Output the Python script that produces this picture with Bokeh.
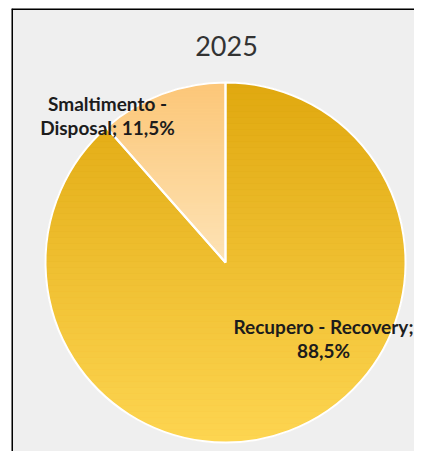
import numpy as np
from bokeh.plotting import figure
from bokeh.models import Range1d, Span
from bokeh.core.properties import value
from bokeh.embed import file_html
from bokeh.resources import INLINE

# ---- data ----
title_text = "2025"
categories = ["Recupero - Recovery", "Smaltimento - Disposal"]
shares = [88.5, 11.5]
label_texts = ["Recupero - Recovery;\n88,5%", "Smaltimento -\nDisposal; 11,5%"]
top_colors = ["#e0a80f", "#fcc677"]
bottom_colors = ["#fdd551", "#fde3b6"]
mid_colors = ["#efbe32", "#fdd598"]

# ---- layout (pixel-like data units) ----
W, H = 414, 451
BL, BT = 11, 8
FW, FH = W - BL, H - BT
cx, cy, R = 214, 189, 180
label_pos = [(312, 113), (96, 336)]
title_pos = (215, 406)

p = figure(width=W, height=H, x_range=Range1d(0, FW), y_range=Range1d(0, FH),
           output_backend="svg", toolbar_location=None,
           min_border_left=BL, min_border_top=BT, min_border_right=0, min_border_bottom=0)
p.axis.visible = False
p.grid.visible = False
p.background_fill_color = "#efefef"
p.border_fill_color = "white"
p.outline_line_color = None

p.add_layout(Span(location=0, dimension="height", line_color="black", line_width=3))
p.add_layout(Span(location=FH, dimension="width", line_color="black", line_width=3))

total = float(sum(shares))
fr = np.array(shares) / total
cum = np.concatenate([[0], np.cumsum(fr)])
starts = np.pi / 2 - cum[:-1] * 2 * np.pi
ends = np.pi / 2 - cum[1:] * 2 * np.pi

# base wedges
p.wedge(x=[cx] * len(shares), y=[cy] * len(shares), radius=R,
        start_angle=list(ends), end_angle=list(starts),
        fill_color=mid_colors, line_color=None)


def clip(poly, y0, keep_above):
    out = []
    n = len(poly)
    for i in range(n):
        a = poly[i]
        b = poly[(i + 1) % n]
        ina = a[1] >= y0 if keep_above else a[1] <= y0
        inb = b[1] >= y0 if keep_above else b[1] <= y0
        if ina:
            out.append(a)
        if ina != inb:
            t = (y0 - a[1]) / (b[1] - a[1])
            out.append((a[0] + t * (b[0] - a[0]), y0))
    return out


def hex2rgb(h):
    return np.array([int(h[i:i + 2], 16) for i in (1, 3, 5)], dtype=float)


def rgb2hex(c):
    return "#%02x%02x%02x" % tuple(int(round(v)) for v in c)


xs_all, ys_all, cols = [], [], []
for i in range(len(shares)):
    ang = np.linspace(starts[i], ends[i], 200)
    poly = [(cx, cy)] + [(cx + R * np.cos(a), cy + R * np.sin(a)) for a in ang]
    ymin = min(q[1] for q in poly)
    ymax = max(q[1] for q in poly)
    nb = 60
    edges = np.linspace(ymax, ymin, nb + 1)
    c0, c1 = hex2rgb(top_colors[i]), hex2rgb(bottom_colors[i])
    for k in range(nb):
        yt, yb = edges[k], edges[k + 1]
        band = clip(clip(poly, yb, True), yt, False)
        if len(band) < 3:
            continue
        t = (k + 0.5) / nb
        xs_all.append([q[0] for q in band])
        ys_all.append([q[1] for q in band])
        cols.append(rgb2hex(c0 + (c1 - c0) * t))

p.patches(xs=xs_all, ys=ys_all, fill_color=cols, line_color=cols, line_width=0.8)

# white separators / outline
p.wedge(x=[cx] * len(shares), y=[cy] * len(shares), radius=R,
        start_angle=list(ends), end_angle=list(starts),
        fill_color=None, line_color="white", line_width=2)

# labels
p.text(x=[q[0] for q in label_pos], y=[q[1] for q in label_pos], text=label_texts,
       text_align="center", text_baseline="middle", text_font=value("Lato"),
       text_font_style="bold", text_font_size="19px", text_color="#1c1c1c",
       text_line_height=1.05)

# title
p.text(x=[title_pos[0]], y=[title_pos[1]], text=[title_text], text_align="center",
       text_baseline="middle", text_font=value("Lato"), text_font_size="27px",
       text_color="#333333")

open("out.html", "w").write(file_html(p, INLINE))
